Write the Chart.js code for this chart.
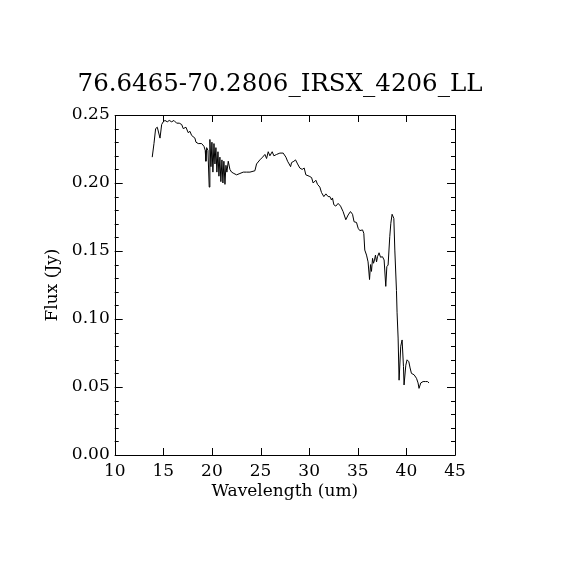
<!DOCTYPE html>
<html>
<head>
<meta charset="utf-8">
<script src="https://cdn.jsdelivr.net/npm/chart.js@4.4.1/dist/chart.umd.min.js"></script>
<style>
  html, body { margin: 0; padding: 0; background: #ffffff; }
  #wrap { width: 570px; height: 570px; }
</style>
</head>
<body>
<div id="wrap"><canvas id="c" width="570" height="570"></canvas></div>
<script>
const chartTitle = "76.6465-70.2806_IRSX_4206_LL";
const xAxisTitle = "Wavelength (um)";
const yAxisTitle = "Flux (Jy)";
const xTicks = [10, 15, 20, 25, 30, 35, 40, 45];
const yTicks = [0.00, 0.05, 0.10, 0.15, 0.20, 0.25];

const wavelength = [
  13.86, 14.04, 14.21, 14.38, 14.66, 14.83, 14.99, 15.17, 15.41, 15.61,
  15.86, 16.09, 16.37, 16.64, 16.89, 17.05, 17.33, 17.56, 17.74, 17.91,
  18.25, 18.36, 18.59, 18.94, 19.18, 19.31, 19.38, 19.46, 19.59, 19.72,
  19.79, 19.90, 20.00, 20.10, 20.21, 20.31, 20.41, 20.51, 20.62, 20.72,
  20.82, 20.92, 21.03, 21.13, 21.23, 21.34, 21.44, 21.54, 21.68, 21.85,
  22.02, 22.26, 22.54, 22.88, 23.22, 23.57, 23.91, 24.42, 24.59, 24.93,
  25.21, 25.45, 25.62, 25.79, 25.96, 26.20, 26.37, 26.65, 26.99, 27.33,
  27.61, 27.78, 27.94, 28.09, 28.19, 28.43, 28.60, 28.81, 29.04, 29.28,
  29.49, 29.66, 30.00, 30.25, 30.41, 30.69, 30.86, 31.10, 31.27, 31.51,
  31.72, 31.95, 32.13, 32.30, 32.40, 32.54, 32.74, 32.98, 33.23, 33.49,
  33.77, 34.01, 34.25, 34.46, 34.62, 34.87, 35.04, 35.21, 35.49, 35.62,
  35.72, 35.90, 36.06, 36.21, 36.31, 36.41, 36.52, 36.62, 36.72, 36.82,
  36.93, 37.03, 37.19, 37.34, 37.54, 37.71, 37.88, 37.99, 38.12, 38.29,
  38.40, 38.53, 38.71, 38.81, 38.98, 39.04, 39.15, 39.25, 39.42, 39.56,
  39.70, 39.76, 39.94, 40.07, 40.25, 40.38, 40.52, 40.79, 41.04, 41.20,
  41.30, 41.48, 41.72, 41.96, 42.17, 42.33
];
const flux = [
  0.219, 0.229, 0.240, 0.241, 0.233, 0.243, 0.245, 0.246, 0.245, 0.246,
  0.245, 0.246, 0.244, 0.244, 0.243, 0.240, 0.241, 0.237, 0.238, 0.235,
  0.233, 0.230, 0.229, 0.229, 0.227, 0.224, 0.216, 0.226, 0.224, 0.197,
  0.232, 0.212, 0.230, 0.208, 0.229, 0.214, 0.226, 0.208, 0.223, 0.205,
  0.219, 0.201, 0.217, 0.200, 0.216, 0.199, 0.213, 0.208, 0.216, 0.210,
  0.208, 0.207, 0.206, 0.207, 0.208, 0.208, 0.208, 0.209, 0.214, 0.217,
  0.219, 0.221, 0.218, 0.223, 0.220, 0.223, 0.220, 0.221, 0.222, 0.222,
  0.219, 0.216, 0.214, 0.212, 0.215, 0.216, 0.217, 0.214, 0.211, 0.210,
  0.211, 0.206, 0.205, 0.204, 0.200, 0.202, 0.199, 0.197, 0.193, 0.190,
  0.192, 0.190, 0.190, 0.1875, 0.189, 0.184, 0.183, 0.185, 0.183, 0.179,
  0.173, 0.1765, 0.179, 0.177, 0.1715, 0.171, 0.1667, 0.165, 0.1655, 0.163,
  0.1507, 0.147, 0.142, 0.129, 0.140, 0.135, 0.1446, 0.141, 0.1434, 0.147,
  0.142, 0.1458, 0.1487, 0.1454, 0.1458, 0.1434, 0.124, 0.1385, 0.1397, 0.1605,
  0.1704, 0.177, 0.174, 0.1507, 0.121, 0.105, 0.086, 0.055, 0.080, 0.0846,
  0.065, 0.0515, 0.066, 0.070, 0.0686, 0.064, 0.060, 0.059, 0.0564, 0.053,
  0.049, 0.053, 0.054, 0.054, 0.054, 0.053
];

const FONT = "'DejaVu Serif', 'Liberation Serif', serif";

const frameTicks = {
  id: 'frameTicks',
  afterDatasetsDraw(chart) {
    const ctx = chart.ctx;
    const a = chart.chartArea;
    const xs = chart.scales.x, ys = chart.scales.y;
    ctx.save();
    ctx.strokeStyle = '#000';
    ctx.lineWidth = 1;
    ctx.beginPath();
    ctx.rect(Math.round(a.left) + 0.5, Math.round(a.top) + 0.5,
             Math.round(a.right - a.left), Math.round(a.bottom - a.top));
    ctx.stroke();
    ctx.beginPath();
    xTicks.forEach(v => {
      const px = Math.round(xs.getPixelForValue(v)) + 0.5;
      ctx.moveTo(px, a.bottom); ctx.lineTo(px, a.bottom - 7);
      ctx.moveTo(px, a.top); ctx.lineTo(px, a.top + 7);
    });
    for (let i = 0; i <= 25; i++) {
      const v = i / 100;
      const len = (i % 5 === 0) ? 8 : 4;
      const py = Math.round(ys.getPixelForValue(v)) + 0.5;
      ctx.moveTo(a.left, py); ctx.lineTo(a.left + len, py);
      ctx.moveTo(a.right, py); ctx.lineTo(a.right - len, py);
    }
    ctx.stroke();
    ctx.restore();
  }
};

new Chart(document.getElementById('c'), {
  type: 'line',
  data: {
    datasets: [{
      data: wavelength.map((w, i) => ({ x: w, y: flux[i] })),
      borderColor: '#000000',
      borderWidth: 1,
      pointRadius: 0,
      tension: 0,
      fill: false
    }]
  },
  options: {
    responsive: false,
    animation: false,
    devicePixelRatio: 1,
    layout: { padding: { left: 0, right: 10, top: 0, bottom: 65 } },
    plugins: {
      legend: { display: false },
      tooltip: { enabled: false },
      title: {
        display: true,
        text: chartTitle,
        color: '#000',
        font: { family: FONT, size: 24.5, weight: 'normal' },
        padding: { top: 70, bottom: 115 - 70 - 29.4 }
      }
    },
    scales: {
      x: {
        type: 'linear',
        min: 10, max: 45,
        afterBuildTicks(s) { s.ticks = xTicks.map(v => ({ value: v })); },
        afterFit(s) { s.height = 50; },
        grid: { display: false, drawTicks: false },
        border: { display: false },
        ticks: {
          color: '#000', padding: 6,
          font: { family: FONT, size: 17 },
          maxRotation: 0,
          callback: v => String(v)
        },
        title: {
          display: true, text: xAxisTitle, color: '#000',
          font: { family: FONT, size: 17 },
          padding: { top: 0, bottom: 3 }
        }
      },
      y: {
        type: 'linear',
        min: 0, max: 0.25,
        afterBuildTicks(s) { s.ticks = yTicks.map(v => ({ value: v })); },
        afterFit(s) { s.width = 114.7; },
        grid: { display: false, drawTicks: false },
        border: { display: false },
        ticks: {
          color: '#000', padding: 5,
          font: { family: FONT, size: 17 },
          callback: v => Number(v).toFixed(2)
        },
        title: {
          display: true, text: yAxisTitle, color: '#000',
          font: { family: FONT, size: 17 },
          padding: { top: 42, bottom: 0 }
        }
      },
      yRight: {
        type: 'linear',
        position: 'right',
        min: 0, max: 0.25,
        afterFit(s) { s.width = 105; },
        grid: { display: false, drawTicks: false },
        border: { display: false },
        ticks: { display: false }
      }
    }
  },
  plugins: [frameTicks]
});
</script>
</body>
</html>
